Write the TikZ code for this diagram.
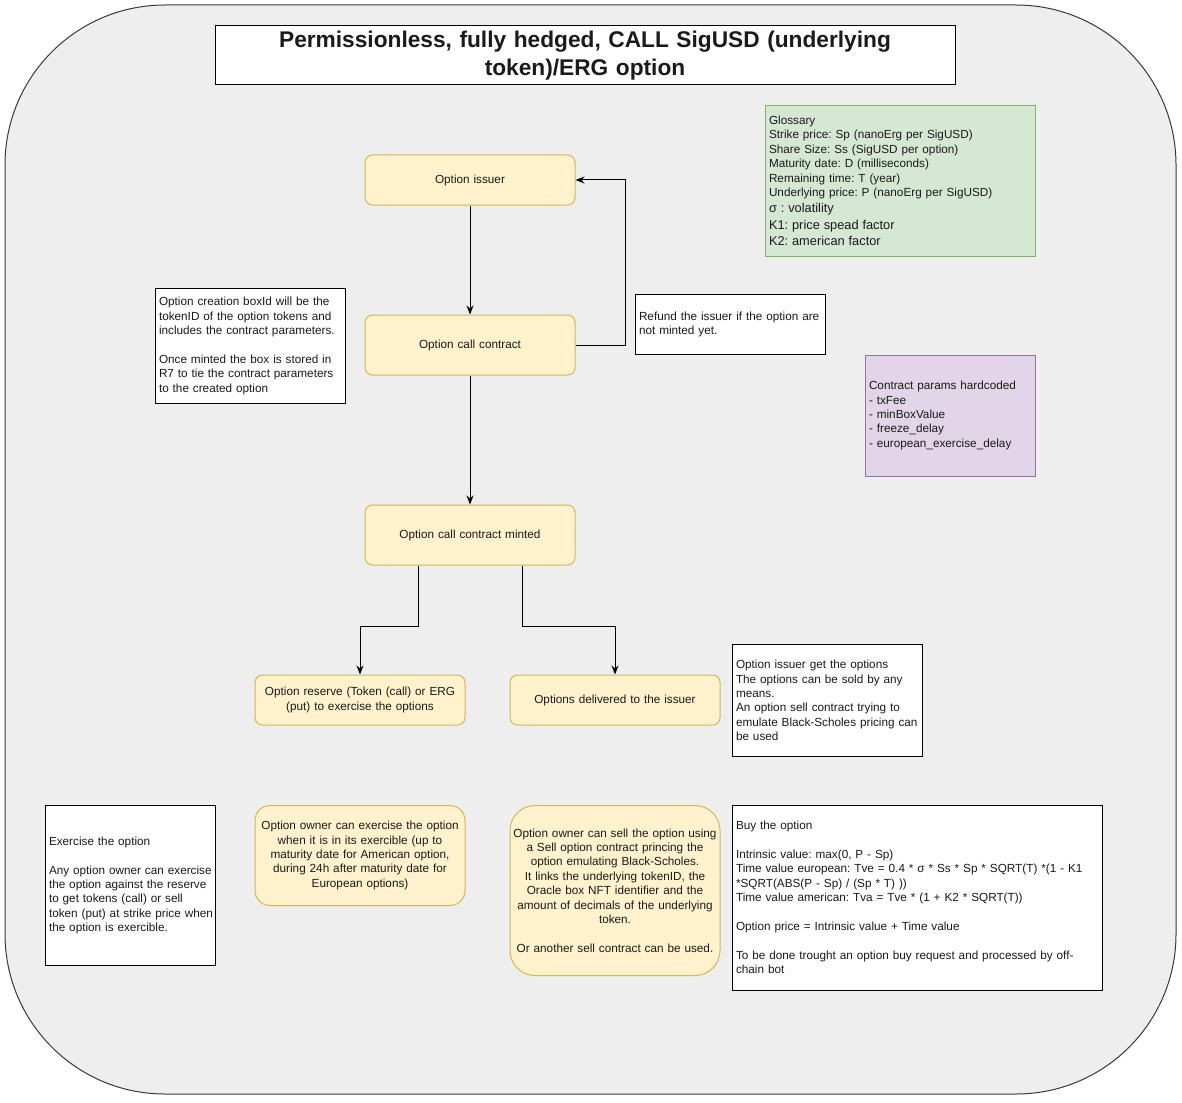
\documentclass[tikz,border=0pt]{standalone}
\usepackage{fontspec}
\setmainfont{Liberation Sans}
\usetikzlibrary{positioning,arrows.meta}
\definecolor{bgfill}{HTML}{EEEEEE}
\definecolor{bgline}{HTML}{36393D}
\definecolor{ylwfill}{HTML}{FFF2CC}
\definecolor{ylwline}{HTML}{D6B656}
\definecolor{grnfill}{HTML}{D5E8D4}
\definecolor{grnline}{HTML}{82B366}
\definecolor{prpfill}{HTML}{E1D5E7}
\definecolor{prpline}{HTML}{9673A6}
\definecolor{txtcol}{HTML}{1A1A1A}

\begin{document}
\frenchspacing
\begin{tikzpicture}[x=1pt,y=-1pt,line width=1pt,
  every node/.style={font=\fontsize{11.75}{14.4}\selectfont,text=txtcol,inner ysep=0pt,inner xsep=2pt},
  note/.style={draw=black,fill=white,align=left,inner xsep=4pt,execute at begin node={\rightskip=-12pt plus 1fil}},
  stepbox/.style={draw=ylwline,fill=ylwfill,align=center,rounded corners=#1,
    execute at begin node={\leftskip=-6pt plus 1fil\rightskip=-6pt plus 1fil}},
  stepbox/.default=7.5pt,
  arr/.style={-{Stealth[length=9pt,width=7pt]}}]
\useasboundingbox (0,0) rectangle (1182,1102);
\node (frame) [draw=bgline,fill=bgfill,rounded corners=160pt,minimum width=1171pt,minimum height=1089pt] at (590.5,549.5) {};

% title
\node (title) [draw=black,fill=white,align=center,text width=736pt,minimum height=59pt,font=\bfseries\fontsize{22.7}{28}\selectfont] at (585,55.5) {Permissionless, fully hedged, CALL SigUSD (underlying\\token)/ERG option};

% glossary and params
\node (gloss) [note,draw=grnline,fill=grnfill,text width=262pt,minimum height=150pt] at (900,181) {Glossary\\Strike price: Sp (nanoErg per SigUSD)\\Share Size: Ss (SigUSD per option)\\Maturity date: D (milliseconds)\\Remaining time: T (year)\\Underlying price: P (nanoErg per SigUSD)\par
{\fontsize{12.8}{16.5}\selectfont σ : volatility\\K1: price spead factor\\K2: american factor\par}};
\node (params) [note,draw=prpline,fill=prpfill,text width=162pt,minimum height=121pt] at (950,415.5) {Contract params hardcoded\\- txFee\\- minBoxValue\\- freeze\_delay\\- european\_exercise\_delay};

% flow
\node (issuer) [stepbox,text width=206pt,minimum height=50pt] at (470,180) {Option issuer};
\node (callc) [stepbox,text width=206pt,minimum height=60pt] at (470,345) {Option call contract};
\node (minted) [stepbox,text width=206pt,minimum height=60pt] at (470,535) {Option call contract minted};
\node (reserve) [stepbox,text width=206pt,minimum height=50pt] at (360,700) {Option reserve (Token (call) or ERG\\(put) to exercise the options};
\node (delivered) [stepbox,text width=206pt,minimum height=50pt] at (615,700) {Options delivered to the issuer};

\node (boxinfo) [note,text width=182pt,minimum height=115pt] at (250,346) {Option creation boxId will be the\\tokenID of the option tokens and\\includes the contract parameters.\\[14.4pt]Once minted the box is stored in\\R7 to tie the contract parameters\\to the created option};
\node (refund) [note,text width=182pt,minimum height=60pt] at (730,324.5) {Refund the issuer if the option are\\not minted yet.};
\node (getopts) [note,text width=182pt,minimum height=112pt] at (827,700.5) {Option issuer get the options\\The options can be sold by any\\means.\\An option sell contract trying to\\emulate Black-Scholes pricing can\\be used};

\draw[arr] (issuer) -- (callc);
\draw[arr] (callc) -- (minted);
\draw[arr] (callc.east) -- ++(50,0) |- (issuer.east);
\draw[arr] ([xshift=-52pt]minted.south) -- ++(0,61) -| (reserve.north);
\draw[arr] ([xshift=52pt]minted.south) -- ++(0,61) -| (delivered.north);

% bottom row
\node (exercise) [note,text width=162pt,minimum height=160pt] at (130,885.5) {Exercise the option\\[14.4pt]Any option owner can exercise\\the option against the reserve\\to get tokens (call) or sell\\token (put) at strike price when\\the option is exercible.};
\node (ownerex) [stepbox=15pt,text width=206pt,minimum height=100pt] at (360,855.5) {Option owner can exercise the option\\when it is in its exercible (up to\\maturity date for American option,\\during 24h after maturity date for\\European options)};
\node (sell) [stepbox=25pt,text width=206pt,minimum height=170pt] at (615,890.5) {Option owner can sell the option using\\a Sell option contract princing the\\option emulating Black-Scholes.\\It links the underlying tokenID, the\\Oracle box NFT identifier and the\\amount of decimals of the underlying\\token.\\[14.4pt]Or another sell contract can be used.};
\node (buy) [note,text width=362pt,minimum height=185pt] at (917,897.5) {Buy the option\\[14.4pt]Intrinsic value: max(0, P - Sp)\\Time value european: Tve = 0.4 * σ * Ss * Sp * SQRT(T) *(1 - K1\\{}*SQRT(ABS(P - Sp) / (Sp * T) ))\\Time value american: Tva = Tve * (1 + K2 * SQRT(T))\\[14.4pt]Option price = Intrinsic value + Time value\\[14.4pt]To be done trought an option buy request and processed by off-\\chain bot};
\end{tikzpicture}
\end{document}
